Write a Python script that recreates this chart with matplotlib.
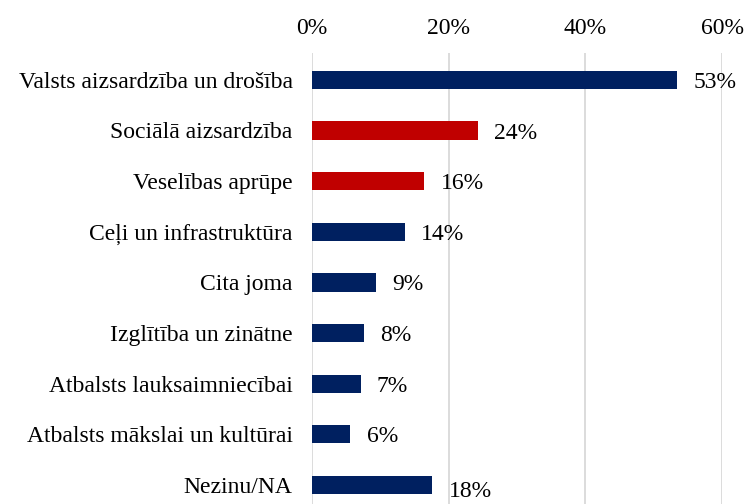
import matplotlib.pyplot as plt
import numpy as np
from matplotlib.ticker import PercentFormatter

categories = [
    "Valsts aizsardzība un drošība",
    "Sociālā aizsardzība",
    "Veselības aprūpe",
    "Ceļi un infrastruktūra",
    "Cita joma",
    "Izglītība un zinātne",
    "Atbalsts lauksaimniecībai",
    "Atbalsts mākslai un kultūrai",
    "Nezinu/NA",
]
values = [53.4, 24.3, 16.4, 13.6, 9.3, 7.6, 7.1, 5.6, 17.6]
highlight = [False, True, True, False, False, False, False, False, False]

NAVY = "#002060"
RED = "#C00000"

plt.rcParams["font.family"] = ["Liberation Serif", "DejaVu Serif"]

fig = plt.figure(figsize=(7.44, 5.04), dpi=100)
ax = fig.add_axes([312 / 744, 0, (722 - 312) / 744, 1 - 53 / 504])

y = np.arange(len(categories))
colors = [RED if h else NAVY for h in highlight]
ax.barh(y, values, height=0.36, color=colors, zorder=3)

for yi, v in zip(y, values):
    ax.text(v + 2.4, yi + (0.12 if yi == len(categories) - 1 else 0.05),
            f"{round(v):d}%", va="center", ha="left", fontsize=17, color="black")

ax.set_xlim(0, 60)
ax.set_ylim(8.375, -0.53)
ax.set_xticks([0, 20, 40, 60])
ax.xaxis.set_major_formatter(PercentFormatter(decimals=0))
ax.xaxis.tick_top()
ax.set_yticks(y)
ax.set_yticklabels(categories)
ax.tick_params(axis="both", length=0, labelsize=17)
ax.tick_params(axis="x", pad=10)
ax.tick_params(axis="y", pad=14)
ax.grid(True, axis="x", color="#d9d9d9", linewidth=1.3, zorder=0)
for s in ax.spines.values():
    s.set_visible(False)

fig.savefig("out.png", dpi=100)
